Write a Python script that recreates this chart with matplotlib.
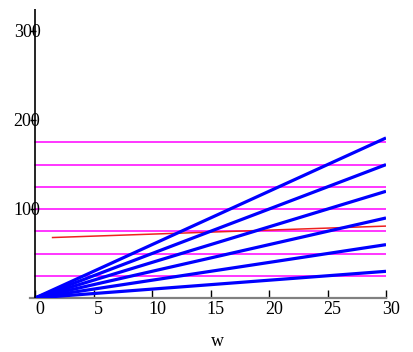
import matplotlib
matplotlib.use("Agg")
import matplotlib.pyplot as plt
import matplotlib.transforms as mtransforms

# data
w = [0, 5, 10, 15, 20, 25, 30]
series = [
    [0, 5, 10, 15, 20, 25, 30],
    [0, 10, 20, 30, 40, 50, 60],
    [0, 15, 30, 45, 60, 75, 90],
    [0, 20, 40, 60, 80, 100, 120],
    [0, 25, 50, 75, 100, 125, 150],
    [0, 30, 60, 90, 120, 150, 180],
]
red_w = [1.5, 30.3]
red_y = [68, 81]
hlevels = [25, 50, 75, 100, 125, 150, 175]
hline_w = [0, 30]
xticks = [0, 5, 10, 15, 20, 25, 30]
yticks = [100, 200, 300]

W, H = 414, 352
fig = plt.figure(figsize=(W / 100, H / 100), dpi=100)
left, right, bottom, top = 30, 386, 352 - 298, 352 - 9
ax = fig.add_axes([left / W, bottom / H, (right - left) / W, (top - bottom) / H])
ax.set_xlim(-0.43, 30)
ax.set_ylim(0, 325)

for lv in hlevels:
    ax.plot(hline_w, [lv, lv], color="#ff00ff", lw=1.1, zorder=2)
ax.plot(red_w, red_y, color="#ee2020", lw=1.1, zorder=3)
for s in series:
    ax.plot(w, s, color="#0000ff", lw=2.3, zorder=4, solid_capstyle="butt")

for sp in ["top", "right", "left"]:
    ax.spines[sp].set_visible(False)
ax.spines["bottom"].set_color("#808080")
ax.spines["bottom"].set_linewidth(1.6)
ax.axvline(0, color="black", lw=1.2, zorder=5)

ax.set_xticks(xticks)
ax.set_yticks(yticks)
ax.tick_params(axis="x", direction="in", length=6, width=1.0, color="black", labelbottom=False)
ax.tick_params(axis="y", direction="in", length=4, width=1.0, color="black", labelleft=False)

font = dict(family="Liberation Serif", fontsize=13, color="black")
offx = mtransforms.offset_copy(ax.transData, fig=fig, x=5 * 0.72, y=-12 * 0.72, units="points")
for t in xticks:
    ax.text(t, 0, str(t), transform=offx, ha="center", va="center", **font)
offy = mtransforms.offset_copy(ax.transData, fig=fig, x=-8 * 0.72, y=-1 * 0.72, units="points")
for t in yticks:
    ax.text(0, t, str(t), transform=offy, ha="center", va="center", **font)

fig.text(217 / W, 1 - 341 / H, "w", ha="center", va="center", **font)

fig.savefig("out.png", dpi=100)
